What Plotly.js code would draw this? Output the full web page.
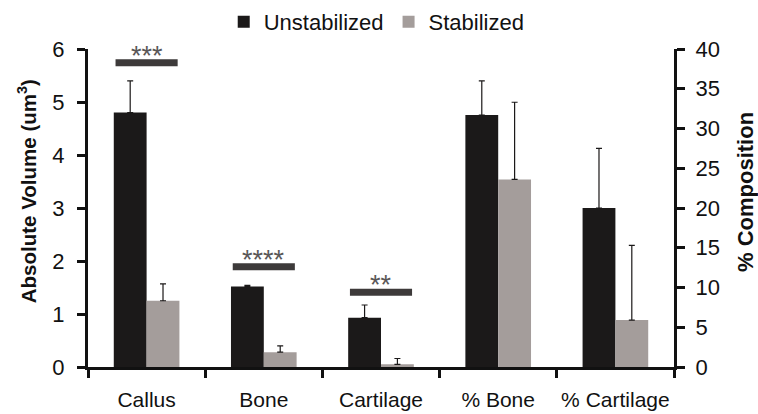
<!DOCTYPE html>
<html>
<head>
<meta charset="utf-8">
<script src="https://cdn.plot.ly/plotly-3.0.1.min.js"></script>
<style>html,body{margin:0;padding:0;background:#fff;}#chart{width:758px;height:414px;}</style>
</head>
<body>
<div id="chart"></div>
<script>
// Categories
const absCategories = ["Callus", "Bone", "Cartilage"];
const pctCategories = ["% Bone", "% Cartilage"];
const allCategories = absCategories.concat(pctCategories);

// Absolute volume (left axis)
const absUnstab = [4.80, 1.52, 0.93];
const absUnstabErr = [0.60, 0.02, 0.24];
const absStab = [1.25, 0.28, 0.05];
const absStabErr = [0.32, 0.12, 0.11];

// % composition (right axis)
const pctUnstab = [31.7, 20.0];
const pctUnstabErr = [4.3, 7.5];
const pctStab = [23.6, 5.9];
const pctStabErr = [9.7, 9.4];

// Significance markers
const sigCats = ["Callus", "Bone", "Cartilage"];
const sigY = [5.74, 1.89, 1.41];
const sigStars = ["***", "****", "**"];

// Axis titles
const leftTitle = "<b>Absolute Volume (um<sup>3</sup>)</b>";
const rightTitle = "<b>% Composition</b>";

const FONT = "Liberation Sans, Arial, sans-serif";
const BLACK = "#1b1919";
const GRAY = "#a49d9b";

function zeros(n){ return new Array(n).fill(0); }
function errY(arr){ return {type:"data", symmetric:false, array:arr, arrayminus:zeros(arr.length), color:"#1b1919", thickness:1.2, width:3}; }

const traces = [
  {type:"bar", name:"Unstabilized", x:absCategories, y:absUnstab, marker:{color:BLACK}, error_y:errY(absUnstabErr), xaxis:"x", yaxis:"y", legendgroup:"u"},
  {type:"bar", name:"Stabilized", x:absCategories, y:absStab, marker:{color:GRAY}, error_y:errY(absStabErr), xaxis:"x", yaxis:"y", legendgroup:"s"},
  {type:"bar", name:"Unstabilized", x:pctCategories, y:pctUnstab, marker:{color:BLACK}, error_y:errY(pctUnstabErr), xaxis:"x", yaxis:"y2", legendgroup:"u", showlegend:false},
  {type:"bar", name:"Stabilized", x:pctCategories, y:pctStab, marker:{color:GRAY}, error_y:errY(pctStabErr), xaxis:"x", yaxis:"y2", legendgroup:"s", showlegend:false}
];

const shapes = [];
const annotations = [];
sigCats.forEach(function(c, i){
  const idx = allCategories.indexOf(c);
  shapes.push({type:"line", xref:"x", yref:"y", x0:idx-0.265, x1:idx+0.265, y0:sigY[i], y1:sigY[i], line:{color:"#3d3a3a", width:7}});
  annotations.push({xref:"x", yref:"y", x:idx, y:sigY[i], text:sigStars[i], showarrow:false, yanchor:"bottom", yshift:-10, font:{family:FONT, size:27, color:"#5a5757"}});
});
annotations.push({xref:"paper", yref:"paper", x:-0.104, y:0.553, xanchor:"center", yanchor:"middle", textangle:-90, showarrow:false, text:leftTitle, font:{family:FONT, size:20.5, color:"#111"}});
annotations.push({xref:"paper", yref:"paper", x:1.121, y:0.55, xanchor:"center", yanchor:"middle", textangle:-90, showarrow:false, text:rightTitle, font:{family:FONT, size:22, color:"#111"}});

const layout = {
  width:758, height:414,
  margin:{l:88, r:84, t:49, b:47, autoexpand:false},
  paper_bgcolor:"#fff", plot_bgcolor:"#fff",
  font:{family:FONT, size:20, color:"#111"},
  barmode:"group", bargap:0.44, bargroupgap:0,
  showlegend:true,
  legend:{orientation:"h", xref:"container", yref:"container", x:0.497, xanchor:"center", y:0.947, yanchor:"middle", font:{family:FONT, size:22, color:"#111"}, itemwidth:30, tracegroupgap:0, bgcolor:"rgba(0,0,0,0)"},
  xaxis:{type:"category", categoryorder:"array", categoryarray:allCategories, range:[-0.5, 4.5], tickangle:0,
    showline:true, linecolor:"#111", linewidth:3, ticks:"outside", tickson:"boundaries", ticklen:8, tickwidth:3, tickcolor:"#111",
    showgrid:false, zeroline:false, tickfont:{family:FONT, size:21, color:"#111"}, ticklabelstandoff:12},
  yaxis:{range:[0,6], dtick:1, showline:true, linecolor:"#111", linewidth:3, ticks:"outside", ticklen:8, tickwidth:3, tickcolor:"#111",
    showgrid:false, zeroline:false, tickfont:{family:FONT, size:22, color:"#111"}, ticklabelstandoff:8},
  yaxis2:{range:[0,40], dtick:5, overlaying:"y", side:"right", showline:true, linecolor:"#111", linewidth:3, ticks:"outside", ticklen:8, tickwidth:3, tickcolor:"#111",
    showgrid:false, zeroline:false, tickfont:{family:FONT, size:22, color:"#111"}, ticklabelstandoff:6},
  shapes:shapes,
  annotations:annotations
};

Plotly.newPlot("chart", traces, layout, {displayModeBar:false, staticPlot:true});
</script>
</body>
</html>
